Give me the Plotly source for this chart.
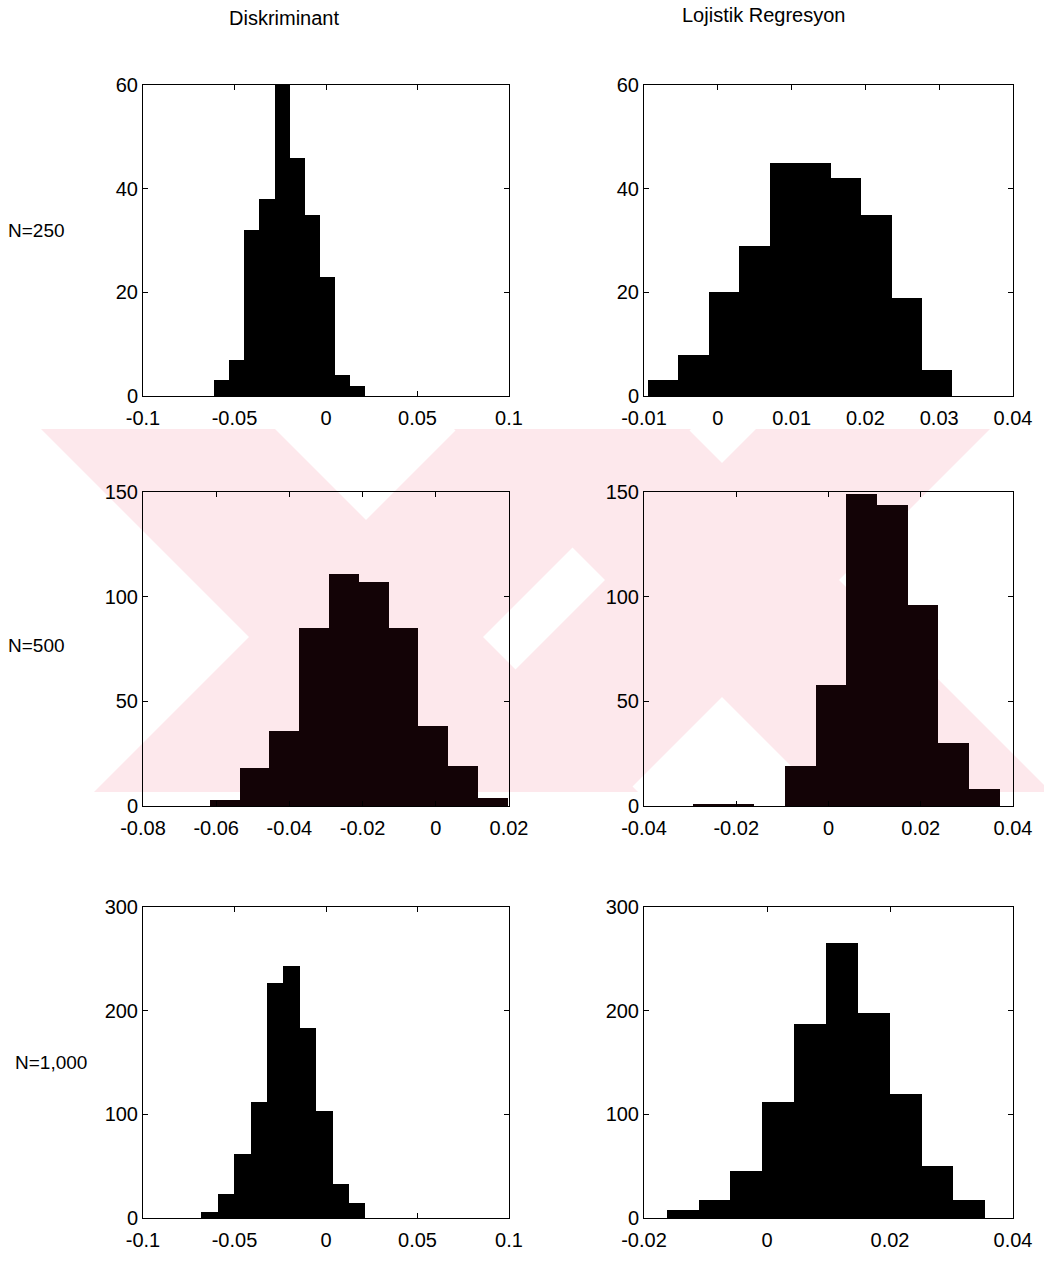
import numpy as np
import plotly.graph_objects as go

W, H = 1044, 1262

# ---- data (10-bin histograms) ----
col_titles = ["Diskriminant", "Lojistik Regresyon"]
row_labels = ["N=250", "N=500", "N=1,000"]

# N=250
disk250_start, disk250_width = -0.0612, 0.00827
disk250_counts = [3, 7, 32, 38, 60, 46, 35, 23, 4, 2]
loj250_start, loj250_width = -0.0095, 0.00413
loj250_counts = [3, 8, 20, 29, 45, 45, 42, 35, 19, 5]
# N=500
disk500_start, disk500_width = -0.0617, 0.00813
disk500_counts = [3, 18, 36, 85, 111, 107, 85, 38, 19, 4]
loj500_start, loj500_width = -0.0294, 0.00665
loj500_counts = [1, 1, 0, 19, 58, 149, 144, 96, 30, 8]
# N=1,000
disk1000_start, disk1000_width = -0.0681, 0.00896
disk1000_counts = [6, 23, 62, 112, 227, 243, 183, 103, 33, 14]
loj1000_start, loj1000_width = -0.0163, 0.00518
loj1000_counts = [8, 17, 45, 112, 187, 265, 198, 120, 50, 17]

# axis ranges and ticks
x_ranges = [[-0.1, 0.1], [-0.01, 0.04], [-0.08, 0.02], [-0.04, 0.04], [-0.1, 0.1], [-0.02, 0.04]]
x_tickvals = [
    [-0.1, -0.05, 0, 0.05, 0.1],
    [-0.01, 0, 0.01, 0.02, 0.03, 0.04],
    [-0.08, -0.06, -0.04, -0.02, 0, 0.02],
    [-0.04, -0.02, 0, 0.02, 0.04],
    [-0.1, -0.05, 0, 0.05, 0.1],
    [-0.02, 0, 0.02, 0.04],
]
x_ticktext = [
    ["-0.1", "-0.05", "0", "0.05", "0.1"],
    ["-0.01", "0", "0.01", "0.02", "0.03", "0.04"],
    ["-0.08", "-0.06", "-0.04", "-0.02", "0", "0.02"],
    ["-0.04", "-0.02", "0", "0.02", "0.04"],
    ["-0.1", "-0.05", "0", "0.05", "0.1"],
    ["-0.02", "0", "0.02", "0.04"],
]
y_ranges = [[0, 60], [0, 60], [0, 150], [0, 150], [0, 300], [0, 300]]
y_tickvals = [[0, 20, 40, 60], [0, 20, 40, 60], [0, 50, 100, 150], [0, 50, 100, 150],
              [0, 100, 200, 300], [0, 100, 200, 300]]

panels = [
    (disk250_start, disk250_width, disk250_counts),
    (loj250_start, loj250_width, loj250_counts),
    (disk500_start, disk500_width, disk500_counts),
    (loj500_start, loj500_width, loj500_counts),
    (disk1000_start, disk1000_width, disk1000_counts),
    (loj1000_start, loj1000_width, loj1000_counts),
]
# bar colours per row (the middle row sits under the faint red watermark)
row_bar_colors = ["#000000", "#130306", "#000000"]

# ---- layout geometry (pixels) ----
col_px = [(143, 509), (644, 1013)]
row_px = [(85, 396), (492, 806), (907, 1218)]

FONT = "Liberation Sans, Arial, sans-serif"
TICK_SIZE = 20

fig = go.Figure()
layout = dict(
    template="none",
    width=W, height=H,
    margin=dict(l=0, r=0, t=0, b=0, pad=0),
    paper_bgcolor="white", plot_bgcolor="rgba(0,0,0,0)",
    showlegend=False, bargap=0,
    font=dict(family=FONT, size=TICK_SIZE, color="black"),
)

for i, (start, width, counts) in enumerate(panels):
    r, c = divmod(i, 2)
    idx = "" if i == 0 else str(i + 1)
    centers = start + width * (np.arange(len(counts)) + 0.5)
    fig.add_trace(go.Bar(
        x=centers, y=counts, width=width,
        marker=dict(color=row_bar_colors[r], line=dict(width=0)),
        xaxis="x" + idx, yaxis="y" + idx, hoverinfo="skip",
    ))
    x0, x1 = col_px[c]
    y0, y1 = row_px[r]
    axis_common = dict(
        showline=True, linecolor="black", linewidth=1, mirror="ticks",
        ticks="inside", ticklen=5, tickcolor="black", tickwidth=1,
        showgrid=False, zeroline=False, fixedrange=True, automargin=False,
        tickfont=dict(family=FONT, size=TICK_SIZE, color="black"),
    )
    layout["xaxis" + idx] = dict(
        domain=[x0 / W, x1 / W], range=x_ranges[i], anchor="y" + idx,
        tickmode="array", tickvals=x_tickvals[i], ticktext=x_ticktext[i],
        ticklabelstandoff=4,
        **axis_common,
    )
    layout["yaxis" + idx] = dict(
        domain=[1 - y1 / H, 1 - y0 / H], range=y_ranges[i], anchor="x" + idx,
        tickmode="array", tickvals=y_tickvals[i],
        ticktext=[str(v) for v in y_tickvals[i]],
        **axis_common,
    )

fig.update_layout(**layout)

# ---- text labels ----
ann = []
title_pos = [(284, 18), (763, 15)]
for t, (px, py) in zip(col_titles, title_pos):
    ann.append(dict(text=t, x=px / W, y=1 - py / H, xref="paper", yref="paper",
                    showarrow=False, xanchor="center", yanchor="middle",
                    font=dict(family=FONT, size=20, color="black")))
row_pos = [(6, 230), (6, 645), (13, 1062)]
for t, (px, py) in zip(row_labels, row_pos):
    ann.append(dict(text=t, x=px / W, y=1 - py / H, xref="paper", yref="paper",
                    showarrow=False, xanchor="left", yanchor="middle",
                    font=dict(family=FONT, size=19, color="black")))
fig.update_layout(annotations=ann)

# ---- faint watermark (two diagonal X marks) ----
def px_path(pts):
    return "M " + " L ".join(f"{x / W:.5f},{1 - y / H:.5f}" for x, y in pts) + " Z"

band_top, band_bot = 429, 792
wm_w = 117
shapes = []
for cx, cy in [(366, 637), (722, 580)]:
    for sgn in (1, -1):
        xt = cx + sgn * (band_top - cy)
        xb = cx + sgn * (band_bot - cy)
        pts = [(xt - wm_w, band_top), (xt + wm_w, band_top),
               (xb + wm_w, band_bot), (xb - wm_w, band_bot)]
        shapes.append(dict(type="path", path=px_path(pts), xref="paper", yref="paper",
                           fillcolor="#fde8ec", line=dict(width=0), layer="below"))
fig.update_layout(shapes=shapes)

fig.write_html("out.html")
